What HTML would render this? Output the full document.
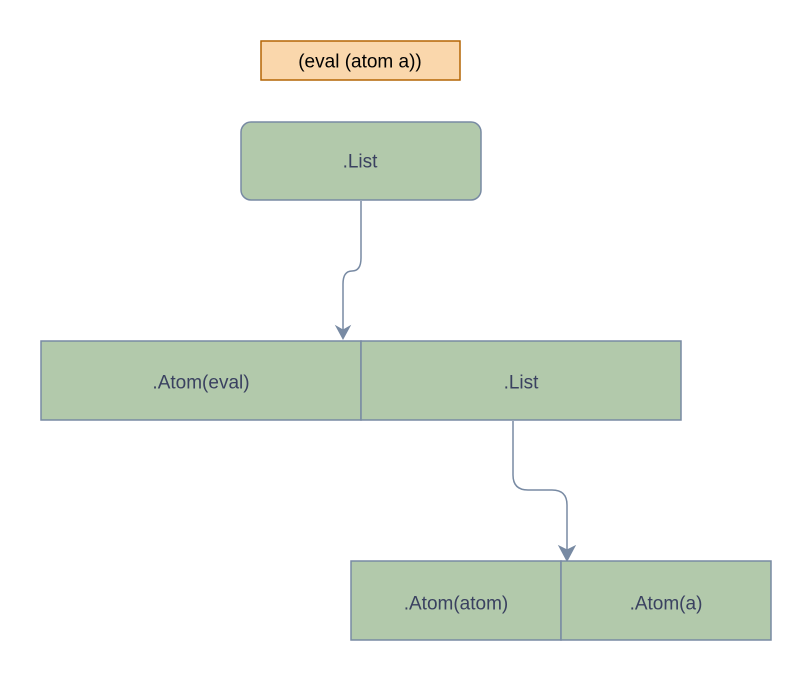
<!DOCTYPE html>
<html><head><meta charset="utf-8"><style>
html,body{margin:0;padding:0;background:#fff;}
svg{display:block}
text{font-family:"Liberation Sans",sans-serif;font-size:19px;fill:#3a4160;text-anchor:middle;dominant-baseline:central}
</style></head><body>
<svg width="812" height="682" viewBox="0 0 812 682" xmlns="http://www.w3.org/2000/svg">
<rect x="261" y="41" width="199" height="39" fill="#fad7ac" stroke="#b46504" stroke-width="1.5"/>
<text x="360" y="62" style="fill:#000">(eval (atom a))</text>
<rect x="241" y="122" width="240" height="78" rx="10" fill="#b2c9ab" stroke="#788aa3" stroke-width="1.5"/>
<text x="360" y="162">.List</text>
<path d="M361 201 V258 Q361 271 352 271 Q343 271 343 284 V332" fill="none" stroke="#788aa3" stroke-width="1.5"/>
<path d="M336 326 L343 339 L350 326 L343 330 Z" fill="#788aa3" stroke="#788aa3"/>
<rect x="41" y="341" width="320" height="79" fill="#b2c9ab" stroke="#788aa3" stroke-width="1.5"/>
<rect x="361" y="341" width="320" height="79" fill="#b2c9ab" stroke="#788aa3" stroke-width="1.5"/>
<text x="201" y="383">.Atom(eval)</text>
<text x="521" y="383">.List</text>
<path d="M513 421 V475 Q513 490 528 490 H552 Q567 490 567 505 V553" fill="none" stroke="#788aa3" stroke-width="1.5"/>
<path d="M559 546 L567 561 L575 546 L567 550 Z" fill="#788aa3" stroke="#788aa3"/>
<rect x="351" y="561" width="210" height="79" fill="#b2c9ab" stroke="#788aa3" stroke-width="1.5"/>
<rect x="561" y="561" width="210" height="79" fill="#b2c9ab" stroke="#788aa3" stroke-width="1.5"/>
<text x="456" y="604">.Atom(atom)</text>
<text x="666" y="604">.Atom(a)</text>
</svg>
</body></html>
